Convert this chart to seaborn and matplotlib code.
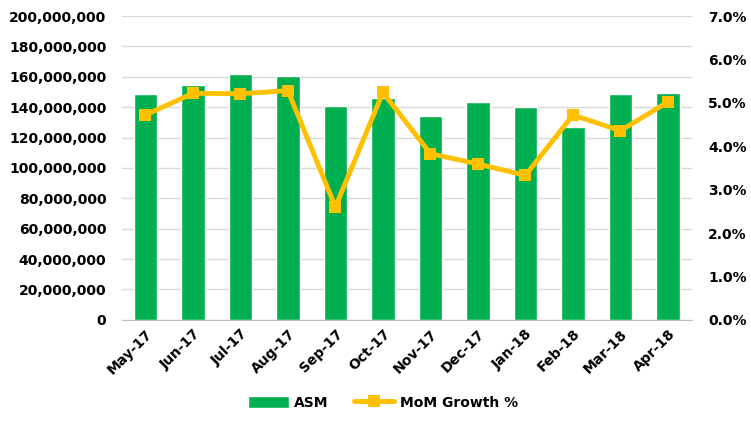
import numpy as np
import pandas as pd
import matplotlib
matplotlib.use('Agg')
import matplotlib.pyplot as plt
import seaborn as sns
from matplotlib.ticker import FuncFormatter
from matplotlib.lines import Line2D
from matplotlib.patches import Patch

# ─── Data ────────────────────────────────────────────────────────────────────
months = ['May-17', 'Jun-17', 'Jul-17', 'Aug-17', 'Sep-17', 'Oct-17',
          'Nov-17', 'Dec-17', 'Jan-18', 'Feb-18', 'Mar-18', 'Apr-18']
asm = [148.5e6, 154.4e6, 162.0e6, 160.3e6, 141.0e6, 145.8e6,
       134.2e6, 143.4e6, 140.1e6, 126.8e6, 148.5e6, 149.3e6]
mom_growth = [4.72, 5.22, 5.21, 5.28, 2.60, 5.24,
              3.83, 3.59, 3.33, 4.72, 4.36, 5.02]

BAR_COLOR = '#00B050'
LINE_COLOR = '#FFC000'
FS = 10

sns.set_style('white')
plt.rcParams['font.family'] = ['DejaVu Sans']
plt.rcParams['font.weight'] = 'bold'
plt.rcParams['text.color'] = 'black'
plt.rcParams['xtick.color'] = 'black'
plt.rcParams['ytick.color'] = 'black'

df = pd.DataFrame({'month': months, 'asm': asm, 'growth': mom_growth})
df['pos'] = np.arange(len(df))

fig = plt.figure(figsize=(7.51, 4.34), dpi=100)
ax = fig.add_axes([0.162, 0.263, 0.759, 0.700])

sns.barplot(data=df, x='month', y='asm', color=BAR_COLOR, saturation=1,
            width=0.5, ax=ax, zorder=2)
ax.set_ylim(0, 200e6)
ax.set_yticks(np.arange(0, 200e6 + 1, 20e6))
ax.yaxis.set_major_formatter(FuncFormatter(lambda v, p: f'{v:,.0f}'))
ax.grid(axis='y', color='#d9d9d9', linewidth=1, zorder=0)
ax.set_axisbelow(True)
ax.set_xlim(-0.5, len(df) - 0.5)
ax.set_xlabel('')
ax.set_ylabel('')
for s in ['top', 'right', 'left']:
    ax.spines[s].set_visible(False)
ax.spines['bottom'].set_color('#bfbfbf')
ax.tick_params(axis='x', which='major', length=0, pad=5, labelcolor='black')
ax.set_xticks(np.arange(-0.5, len(df), 1), minor=True)
ax.tick_params(axis='x', which='minor', length=5, color='#bfbfbf', direction='out')
ax.tick_params(axis='y', length=0, labelsize=FS, pad=11, labelcolor='black')
plt.setp(ax.get_xticklabels(), rotation=45, ha='right', rotation_mode='anchor',
         fontsize=FS, fontweight='bold')
plt.setp(ax.get_yticklabels(), fontweight='bold')

ax2 = ax.twinx()
sns.lineplot(data=df, x='pos', y='growth', color=LINE_COLOR, linewidth=3.5,
             marker='s', markersize=8, markeredgewidth=0, ax=ax2, zorder=3)
ax2.set_ylim(0, 7)
ax2.set_yticks(np.arange(0, 7.01, 1))
ax2.yaxis.set_major_formatter(FuncFormatter(lambda v, p: f'{v:.1f}%'))
ax2.set_xlabel('')
ax2.set_ylabel('')
ax2.tick_params(axis='y', length=0, labelsize=FS, pad=12, labelcolor='black')
plt.setp(ax2.get_yticklabels(), fontweight='bold')
for s in ['top', 'right', 'left', 'bottom']:
    ax2.spines[s].set_visible(False)
ax2.set_xlim(-0.5, len(df) - 0.5)

handles = [Patch(facecolor=BAR_COLOR, label='ASM'),
           Line2D([0], [0], color=LINE_COLOR, linewidth=3.5, marker='s',
                  markersize=8, markeredgewidth=0, label='MoM Growth %')]
fig.legend(handles=handles, loc='center', bbox_to_anchor=(0.51, 0.072), ncol=2,
           frameon=False, prop={'size': FS, 'weight': 'bold'},
           handlelength=2.9, handleheight=0.9, columnspacing=1.8, handletextpad=0.4)

fig.savefig('out.png', dpi=100)
plt.close(fig)
